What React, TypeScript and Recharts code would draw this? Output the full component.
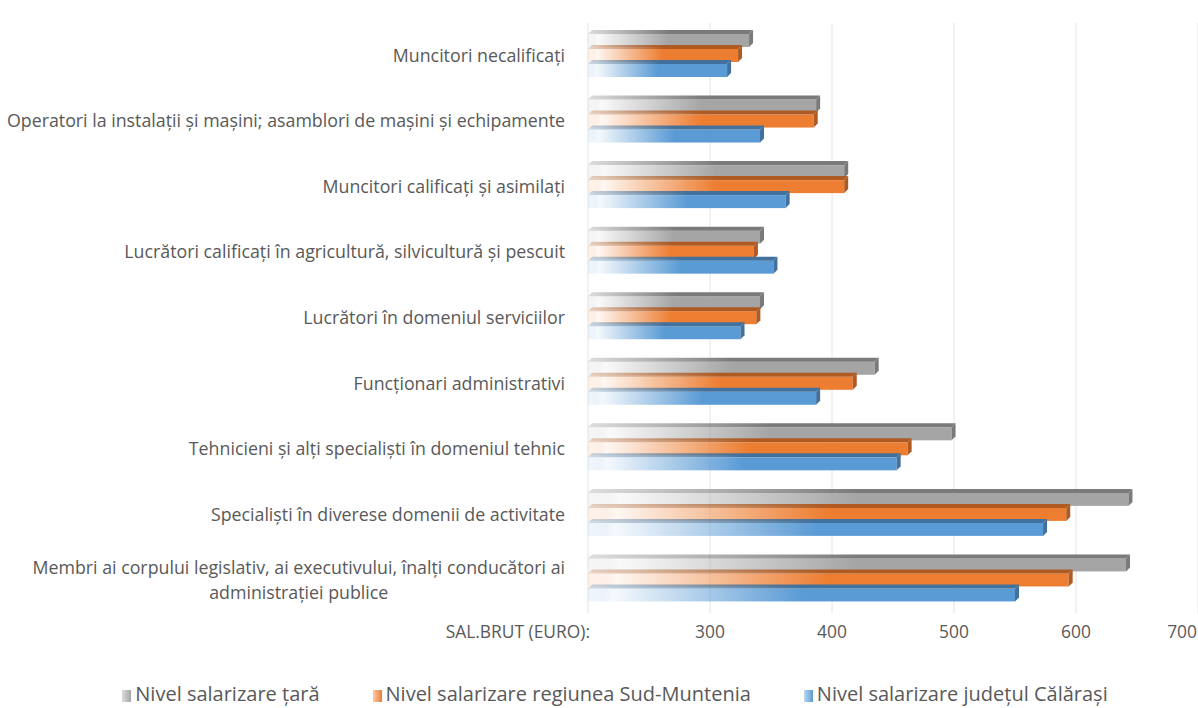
import React from "react";
import { BarChart, Bar, XAxis, YAxis, CartesianGrid, Legend } from "recharts";

const categories = [
  "Muncitori necalificați",
  "Operatori la instalații și mașini; asamblori de mașini și echipamente",
  "Muncitori calificați și asimilați",
  "Lucrători calificați în agricultură, silvicultură și pescuit",
  "Lucrători în domeniul serviciilor",
  "Funcționari administrativi",
  "Tehnicieni și alți specialiști în domeniul tehnic",
  "Specialiști în diverese domenii de activitate",
  "Membri ai corpului legislativ, ai executivului, înalți conducători ai administrației publice",
];
const nivelTara = [332, 387, 410, 341, 341, 435, 498, 643, 641];
const nivelRegiune = [323, 385, 410, 336, 338, 417, 462, 592, 594];
const nivelJudet = [314, 341, 362, 352, 325, 387, 453, 573, 550];
const seriesNames = [
  "Nivel salarizare țară",
  "Nivel salarizare regiunea Sud-Muntenia",
  "Nivel salarizare județul Călărași",
];
const xTicks = [200, 300, 400, 500, 600, 700];
const xTickLabels = ["SAL.BRUT (EURO):", "300", "400", "500", "600", "700"];

const data = categories.map((c, i) => ({
  name: c,
  tara: nivelTara[i],
  regiune: nivelRegiune[i],
  judet: nivelJudet[i],
}));

const COLORS = ["#a5a5a5", "#ed7d31", "#5b9bd5"];
const DARK = ["#7a7a7a", "#ae5a22", "#41719c"];
const FONT = "'Open Sans', 'Noto Sans', sans-serif";
const TEXT = "#595959";
const FS = 17.8;
const XFS = 17.4;
const LFS = 20;

let canvasCtx: CanvasRenderingContext2D | null = null;
function measure(t: string) {
  if (!canvasCtx) {
    const c = document.createElement("canvas");
    canvasCtx = c.getContext("2d");
  }
  if (!canvasCtx) return t.length * FS * 0.5;
  canvasCtx.font = `${FS}px 'Open Sans'`;
  return canvasCtx.measureText(t).width;
}

function wrap(t: string, maxW: number) {
  const words = t.split(" ");
  const lines: string[] = [];
  let cur = "";
  for (const w of words) {
    const test = cur ? cur + " " + w : w;
    if (measure(test) > maxW && cur) {
      lines.push(cur);
      cur = w;
    } else cur = test;
  }
  if (cur) lines.push(cur);
  return lines;
}

const YTick = (props: any) => {
  const { x, y, payload } = props;
  const maxW = measure(categories[1]) + 4;
  const lines = wrap(String(payload.value), maxW);
  const right = x - 23;
  if (lines.length === 1) {
    return (
      <text x={right} y={y + 6} textAnchor="end" fill={TEXT} fontSize={FS} fontFamily={FONT}>
        {lines[0]}
      </text>
    );
  }
  const w0 = measure(lines[0]);
  const cx = right - w0 / 2;
  const lh = 25;
  const startY = y + 6 - ((lines.length - 1) * lh) / 2;
  return (
    <g>
      {lines.map((l, i) => (
        <text key={i} x={cx} y={startY + i * lh} textAnchor="middle" fill={TEXT} fontSize={FS} fontFamily={FONT}>
          {l}
        </text>
      ))}
    </g>
  );
};

const XTick = (props: any) => {
  const { x, y, payload } = props;
  const idx = xTicks.indexOf(payload.value);
  const label = idx >= 0 ? xTickLabels[idx] : String(payload.value);
  let anchor: "start" | "middle" | "end" = "middle";
  let tx = x;
  if (idx === 0) {
    anchor = "end";
    tx = x + 2;
  } else if (idx === xTicks.length - 1) {
    anchor = "end";
    tx = x - 1;
  }
  return (
    <text x={tx} y={y + 25} textAnchor={anchor} fill={TEXT} fontSize={XFS} fontFamily={FONT}>
      {label}
    </text>
  );
};

const makeShape = (s: number) => (props: any) => {
  const { x, y, width, height } = props;
  if (width == null || width <= 0) return <g />;
  const d = 4;
  return (
    <g>
      <rect x={x} y={y} width={width} height={height} fill={`url(#front${s})`} />
      <polygon
        points={`${x},${y} ${x + d},${y - d} ${x + width + d},${y - d} ${x + width},${y}`}
        fill={`url(#top${s})`}
      />
      <polygon
        points={`${x + width},${y} ${x + width + d},${y - d} ${x + width + d},${y + height - d} ${x + width},${y + height}`}
        fill={DARK[s]}
      />
    </g>
  );
};

const LegendContent = () => (
  <div
    style={{
      display: "flex",
      justifyContent: "center",
      gap: 53,
      paddingLeft: 32,
      fontFamily: FONT,
      fontSize: LFS,
      color: TEXT,
      lineHeight: "22px",
      height: 24,
    }}
  >
    {seriesNames.map((n, i) => (
      <div key={i} style={{ display: "flex", alignItems: "center" }}>
        <span
          style={{
            display: "inline-block",
            width: 9,
            height: 12,
            marginRight: 4,
            marginTop: 3,
            background: `linear-gradient(to right, ${COLORS[i]}66, ${COLORS[i]})`,
          }}
        />
        <span>{n}</span>
      </div>
    ))}
  </div>
);

export default function App() {
  const keys = ["tara", "regiune", "judet"];
  return (
    <div style={{ position: "absolute", left: 0, top: 0, width: 1198, height: 708, background: "#fff", overflow: "hidden" }}>
      <BarChart
        width={1198}
        height={708}
        data={data}
        layout="vertical"
        margin={{ top: 23, right: 0, bottom: 0, left: 0 }}
        barCategoryGap="16%"
        barGap={2}
        barSize={13}
      >
        <defs>
          {COLORS.map((c, i) => (
            <linearGradient key={"f" + i} id={`front${i}`} x1="0" y1="0" x2="1" y2="0">
              <stop offset="0" stopColor={c} stopOpacity={0.1} />
              <stop offset="0.04" stopColor={c} stopOpacity={0.12} />
              <stop offset="0.06" stopColor={c} stopOpacity={0.06} />
              <stop offset="0.5" stopColor={c} stopOpacity={1} />
              <stop offset="1" stopColor={c} stopOpacity={1} />
            </linearGradient>
          ))}
          {DARK.map((c, i) => (
            <linearGradient key={"t" + i} id={`top${i}`} x1="0" y1="0" x2="1" y2="0">
              <stop offset="0" stopColor={c} stopOpacity={0.25} />
              <stop offset="0.5" stopColor={c} stopOpacity={1} />
              <stop offset="1" stopColor={c} stopOpacity={1} />
            </linearGradient>
          ))}
        </defs>
        <CartesianGrid vertical horizontal={false} stroke="#e4e4e4" />
        <XAxis
          type="number"
          domain={[200, 700]}
          ticks={xTicks}
          axisLine={false}
          tickLine={false}
          tickSize={0}
          tickMargin={0}
          height={69}
          tick={<XTick />}
          interval={0}
          allowDataOverflow
        />
        <YAxis
          type="category"
          dataKey="name"
          width={588}
          axisLine={false}
          tickLine={false}
          tickSize={0}
          tickMargin={0}
          interval={0}
          tick={<YTick />}
        />
        <Legend verticalAlign="bottom" wrapperStyle={{ height: 26 }} content={<LegendContent />} />
        {keys.map((k, i) => (
          <Bar
            key={k}
            dataKey={k}
            name={seriesNames[i]}
            fill={COLORS[i]}
            isAnimationActive={false}
            shape={makeShape(i)}
          />
        ))}
      </BarChart>
    </div>
  );
}
